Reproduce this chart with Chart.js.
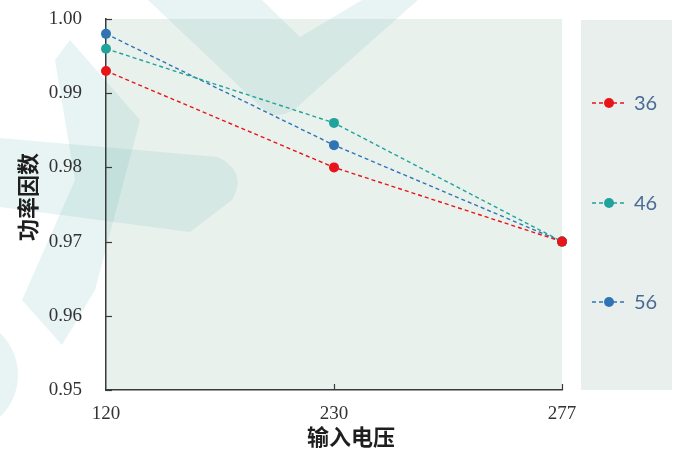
<!DOCTYPE html>
<html>
<head>
<meta charset="utf-8">
<script src="https://cdn.jsdelivr.net/npm/chart.js@4"></script>
<style>
html,body{margin:0;padding:0;background:#fff;}
#wrap{width:685px;height:456px;position:relative;}
</style>
</head>
<body>
<div id="wrap"><canvas id="c" width="685" height="456"></canvas></div>
<script>
// ---- data ----
const categories = ['120', '230', '277'];
const seriesNames = ['36', '46', '56'];
const series36 = [0.993, 0.980, 0.970];
const series46 = [0.996, 0.986, 0.970];
const series56 = [0.998, 0.983, 0.970];
const yMin = 0.95, yMax = 1.00, yStep = 0.01;
const xTitle = '输入电压';
const yTitle = '功率因数';

const colors = ['#e8141a', '#1fa39b', '#2f74b5'];
const values = [series36, series46, series56];

const datasets = values.map((v, i) => ({
  label: seriesNames[i],
  data: v,
  borderColor: colors[i],
  backgroundColor: colors[i],
  borderWidth: 1.4,
  borderDash: [4, 3],
  pointRadius: 5,
  pointHoverRadius: 5,
  pointBorderWidth: 0,
  tension: 0,
  fill: false
}));

const deco = {
  id: 'deco',
  beforeDraw(chart) {
    const ctx = chart.ctx, a = chart.chartArea;
    ctx.save();
    ctx.fillStyle = '#ffffff';
    ctx.fillRect(0, 0, chart.width, chart.height);
    ctx.fillStyle = '#e9f1ed';
    ctx.fillRect(a.left, a.top, a.right - a.left, a.bottom - a.top);
    ctx.fillStyle = '#e8efed';
    ctx.fillRect(581, 20, 91, 370);
    // faint watermark shapes
    ctx.fillStyle = 'rgba(110,185,178,0.16)';
    ctx.beginPath();
    ctx.moveTo(148, 0); ctx.lineTo(262, 0); ctx.lineTo(300, 37); ctx.lineTo(362, 0); ctx.lineTo(418, 0);
    ctx.lineTo(305, 100); ctx.quadraticCurveTo(282, 125, 262, 108); ctx.closePath();
    ctx.fill();
    ctx.beginPath();
    ctx.moveTo(0, 138); ctx.lineTo(218, 157); ctx.quadraticCurveTo(248, 172, 232, 200); ctx.lineTo(190, 232);
    ctx.lineTo(0, 207); ctx.closePath();
    ctx.fill();
    ctx.beginPath();
    ctx.moveTo(55, 60); ctx.lineTo(70, 40); ctx.lineTo(140, 120); ctx.lineTo(95, 290); ctx.lineTo(62, 345);
    ctx.lineTo(22, 300); ctx.lineTo(75, 180); ctx.closePath();
    ctx.fill();
    ctx.beginPath();
    ctx.arc(-40, 375, 58, -Math.PI / 2, Math.PI / 2);
    ctx.fill();
    ctx.restore();
  },
  afterDraw(chart) {
    const ctx = chart.ctx;
    const xs = chart.scales.x, ys = chart.scales.y;
    ctx.save();
    ctx.strokeStyle = '#3a3a3a';
    ctx.lineWidth = 1.2;
    ys.ticks.forEach((t, i) => {
      const y = Math.round(ys.getPixelForTick(i)) + 0.5;
      ctx.beginPath(); ctx.moveTo(xs.left, y); ctx.lineTo(xs.left + 6, y); ctx.stroke();
    });
    xs.ticks.forEach((t, i) => {
      if (i === 0) return;
      const x = Math.round(xs.getPixelForTick(i)) + 0.5;
      ctx.beginPath(); ctx.moveTo(x, ys.bottom); ctx.lineTo(x, ys.bottom - 6); ctx.stroke();
    });
    // axis titles
    ctx.fillStyle = '#1e1e1e';
    ctx.font = 'bold 22px "Noto Sans CJK SC"';
    ctx.textAlign = 'center';
    ctx.textBaseline = 'middle';
    ctx.fillText(xTitle, 351, 437);
    ctx.save();
    ctx.translate(28, 197);
    ctx.rotate(-Math.PI / 2);
    ctx.fillText(yTitle, 0, 0);
    ctx.restore();
    // legend
    const centers = [103, 203, 302];
    chart.data.datasets.forEach((ds, i) => {
      const y = centers[i];
      ctx.strokeStyle = ds.borderColor;
      ctx.lineWidth = 1.4;
      ctx.setLineDash([4, 3]);
      ctx.beginPath(); ctx.moveTo(592, y); ctx.lineTo(625, y); ctx.stroke();
      ctx.setLineDash([]);
      ctx.fillStyle = ds.backgroundColor;
      ctx.beginPath(); ctx.arc(609, y, 5, 0, Math.PI * 2); ctx.fill();
      ctx.fillStyle = '#4a6a96';
      ctx.font = '20px Lato';
      ctx.textBaseline = 'middle';
      ctx.textAlign = 'left';
      ctx.fillText(ds.label, 634, y + 1);
    });
    ctx.restore();
  }
};

new Chart(document.getElementById('c'), {
  type: 'line',
  data: { labels: categories, datasets },
  options: {
    responsive: false,
    animation: false,
    devicePixelRatio: 1,
    layout: { padding: { left: 0, right: 123, top: 19, bottom: 0 } },
    plugins: { legend: { display: false }, tooltip: { enabled: false } },
    scales: {
      x: {
        type: 'category',
        offset: false,
        grid: { display: true, color: 'rgba(0,0,0,0)', drawTicks: false },
        border: { display: true, color: '#3a3a3a', width: 1.5 },
        ticks: { color: '#333', font: { family: 'Liberation Serif', size: 19 }, padding: 13, maxRotation: 0 },
        afterFit: s => { s.height = 66; s.paddingLeft = 0; s.paddingRight = 0; }
      },
      y: {
        min: yMin, max: yMax,
        grid: { display: true, color: 'rgba(0,0,0,0)', drawTicks: false },
        border: { display: true, color: '#3a3a3a', width: 1.5 },
        ticks: { stepSize: yStep, color: '#333', font: { family: 'Liberation Serif', size: 19 }, padding: 24,
          callback: v => v.toFixed(2) },
        afterFit: s => { s.width = 106; s.paddingTop = 0; s.paddingBottom = 0; }
      }
    }
  },
  plugins: [deco]
});
</script>
</body>
</html>
